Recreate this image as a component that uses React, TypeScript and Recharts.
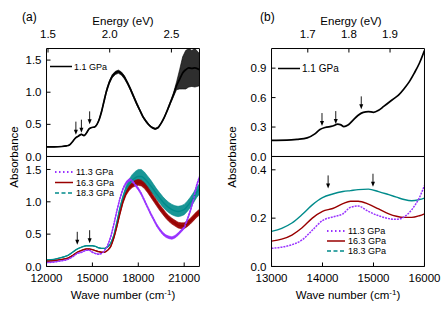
import React from "react";
import { ComposedChart, Line, Area, XAxis, YAxis, ReferenceDot } from "recharts";

const FONT = '"Liberation Sans", Arial, sans-serif';
const EV = 8065.54; // cm-1 per eV

// (a) upper panel, 1.1 GPa
const A_TOP_WN = [12000, 12500, 13000, 13300, 13500, 13700, 13900, 14100, 14280, 14450, 14600, 14780, 14950, 15150, 15300, 15450, 15600, 15750, 15900, 16100, 16300, 16500, 16700, 16900, 17100, 17300, 17500, 17700, 17900, 18100, 18300, 18500, 18700, 18900, 19100, 19300, 19500, 19700, 19900, 20100, 20300, 20500, 20700, 20900, 21100, 21300, 21500, 21700, 22000];
const A_TOP_ABS = [0.15, 0.15, 0.155, 0.165, 0.18, 0.23, 0.29, 0.32, 0.345, 0.325, 0.36, 0.43, 0.45, 0.46, 0.5, 0.58, 0.7, 0.85, 1.0, 1.15, 1.25, 1.3, 1.32, 1.29, 1.23, 1.14, 1.04, 0.93, 0.82, 0.72, 0.62, 0.55, 0.49, 0.45, 0.43, 0.45, 0.52, 0.61, 0.72, 0.84, 0.96, 1.1, 1.2, 1.3, 1.35, 1.38, 1.37, 1.38, 1.35];
const A_TOP_NOISE = [0, 0, 0, 0, 0, 0, 0, 0, 0, 0, 0, 0, 0, 0, 0, 0.01, 0.015, 0.02, 0.02, 0.02, 0.025, 0.025, 0.025, 0.025, 0.025, 0.02, 0.02, 0.02, 0.02, 0.015, 0.015, 0.015, 0.01, 0.01, 0.01, 0.01, 0.01, 0.01, 0.015, 0.02, 0.03, 0.06, 0.15, 0.25, 0.3, 0.3, 0.28, 0.3, 0.25];

// (a) lower panel
const A_WN = [12000, 12500, 13000, 13400, 13700, 14000, 14300, 14600, 14800, 15000, 15200, 15400, 15600, 15800, 16000, 16200, 16400, 16600, 16800, 17000, 17200, 17400, 17600, 17800, 18000, 18200, 18400, 18600, 18800, 19000, 19200, 19400, 19600, 19800, 20000, 20200, 20400, 20600, 20800, 21000, 21200, 21400, 21600, 21800, 22000];
const A_113 = [0.06, 0.07, 0.09, 0.11, 0.15, 0.2, 0.22, 0.25, 0.25, 0.22, 0.2, 0.19, 0.2, 0.25, 0.33, 0.46, 0.65, 0.86, 1.05, 1.2, 1.29, 1.34, 1.32, 1.26, 1.2, 1.12, 1.02, 0.92, 0.82, 0.73, 0.64, 0.57, 0.51, 0.47, 0.45, 0.44, 0.46, 0.5, 0.55, 0.6, 0.72, 0.86, 1.03, 1.24, 1.38];
const A_163 = [0.08, 0.09, 0.11, 0.13, 0.17, 0.22, 0.25, 0.27, 0.27, 0.26, 0.245, 0.23, 0.22, 0.22, 0.25, 0.31, 0.44, 0.62, 0.82, 1.0, 1.13, 1.21, 1.26, 1.29, 1.3, 1.29, 1.25, 1.19, 1.12, 1.05, 0.98, 0.91, 0.85, 0.79, 0.74, 0.7, 0.67, 0.64, 0.63, 0.63, 0.66, 0.7, 0.75, 0.8, 0.84];
const A_183 = [0.1, 0.11, 0.14, 0.17, 0.22, 0.27, 0.3, 0.32, 0.32, 0.32, 0.31, 0.29, 0.28, 0.28, 0.3, 0.36, 0.48, 0.68, 0.9, 1.07, 1.2, 1.28, 1.33, 1.37, 1.39, 1.39, 1.36, 1.31, 1.25, 1.19, 1.12, 1.06, 1.0, 0.95, 0.91, 0.88, 0.86, 0.85, 0.86, 0.88, 0.93, 0.99, 1.06, 1.14, 1.2];
const A_113_NOISE = [0, 0, 0, 0, 0, 0, 0, 0, 0, 0, 0, 0, 0, 0, 0, 0.01, 0.01, 0.01, 0.01, 0.015, 0.02, 0.02, 0.02, 0.02, 0.02, 0.02, 0.02, 0.02, 0.02, 0.02, 0.02, 0.02, 0.02, 0.02, 0.02, 0.02, 0.02, 0.02, 0.02, 0.02, 0.02, 0.02, 0.02, 0.02, 0.02];
const A_163_NOISE = [0, 0, 0, 0, 0, 0, 0, 0, 0, 0, 0, 0, 0, 0, 0, 0, 0, 0.01, 0.015, 0.02, 0.03, 0.035, 0.04, 0.045, 0.045, 0.045, 0.045, 0.045, 0.045, 0.045, 0.045, 0.045, 0.045, 0.045, 0.045, 0.045, 0.045, 0.045, 0.045, 0.045, 0.045, 0.045, 0.045, 0.045, 0.045];
const A_183_NOISE = [0, 0, 0, 0, 0, 0, 0, 0, 0, 0, 0, 0, 0, 0, 0, 0, 0.01, 0.015, 0.02, 0.03, 0.05, 0.07, 0.09, 0.1, 0.11, 0.11, 0.1, 0.09, 0.09, 0.08, 0.08, 0.08, 0.08, 0.08, 0.08, 0.08, 0.08, 0.08, 0.08, 0.08, 0.08, 0.08, 0.08, 0.08, 0.08];

// (b) upper panel, 1.1 GPa
const B_TOP_WN = [13000, 13300, 13500, 13700, 13850, 13950, 14050, 14200, 14300, 14350, 14420, 14500, 14600, 14700, 14800, 14900, 15000, 15100, 15200, 15300, 15400, 15500, 15600, 15700, 15800, 15900, 16000];
const B_TOP_ABS = [0.165, 0.167, 0.175, 0.19, 0.23, 0.275, 0.295, 0.31, 0.33, 0.325, 0.305, 0.32, 0.37, 0.42, 0.45, 0.458, 0.45, 0.47, 0.51, 0.55, 0.59, 0.63, 0.69, 0.76, 0.85, 0.95, 1.08];

// (b) lower panel
const B_WN = [13000, 13200, 13400, 13600, 13800, 14000, 14200, 14400, 14550, 14700, 14900, 15100, 15300, 15450, 15600, 15750, 15900, 16000];
const B_113 = [0.075, 0.08, 0.09, 0.11, 0.15, 0.19, 0.205, 0.218, 0.245, 0.25, 0.228, 0.21, 0.198, 0.195, 0.205, 0.235, 0.285, 0.335];
const B_163 = [0.105, 0.113, 0.13, 0.16, 0.2, 0.228, 0.24, 0.26, 0.27, 0.27, 0.258, 0.238, 0.218, 0.208, 0.203, 0.203, 0.21, 0.218];
const B_183 = [0.145, 0.158, 0.18, 0.215, 0.255, 0.285, 0.3, 0.31, 0.314, 0.318, 0.32, 0.31, 0.297, 0.287, 0.277, 0.272, 0.277, 0.283];

// arrow tips
const ARROWS_A_TOP = [{ x: 13920, y: 0.34 }, { x: 14280, y: 0.37 }, { x: 14820, y: 0.5 }];
const ARROWS_A_BOT = [{ x: 14010, y: 0.335 }, { x: 14820, y: 0.36 }];
const ARROWS_B_TOP = [{ x: 13990, y: 0.31 }, { x: 14260, y: 0.33 }, { x: 14760, y: 0.48 }];
const ARROWS_B_BOT = [{ x: 14110, y: 0.323 }, { x: 14990, y: 0.33 }];

const PURPLE = "#9933ff";
const RED = "#990000";
const TEAL = "#008b8b";

const band = (v: number, n: number) => [v - n, v + n];

const aTop = A_TOP_WN.map((x, i) => ({ x, v: A_TOP_ABS[i], nb: band(A_TOP_ABS[i], A_TOP_NOISE[i]) }));
const aBot = A_WN.map((x, i) => ({
  x,
  p: A_113[i], r: A_163[i], t: A_183[i],
  pb: band(A_113[i], A_113_NOISE[i]),
  rb: band(A_163[i], A_163_NOISE[i]),
  tb: band(A_183[i], A_183_NOISE[i]),
}));
const bTop = B_TOP_WN.map((x, i) => ({ x, v: B_TOP_ABS[i] }));
const bBot = B_WN.map((x, i) => ({ x, p: B_113[i], r: B_163[i], t: B_183[i] }));

const tickStyle = { fontSize: 11.5, fill: "#000", fontFamily: FONT };

const Arrow = (props: any) => {
  const { cx, cy } = props;
  return (
    <g>
      <line x1={cx} y1={cy - 13} x2={cx} y2={cy - 4} stroke="#000" strokeWidth={0.9} />
      <path d={`M${cx - 2},${cy - 5} L${cx + 2},${cy - 5} L${cx},${cy} Z`} fill="#000" />
    </g>
  );
};

// axes take (almost) no room, so the plot box is set by the chart margins
const THIN = 0.01;

function frame(o: {
  xDomain: [number, number];
  xMajor: number[];
  xMinor: number[];
  bottomLabels: boolean;
  topMajor: number[];
  topMinor: number[];
  topLabels: boolean;
  yDomain: [number, number];
  yMajor: number[];
  yMinor: number[];
}) {
  const common = { stroke: "#000", tickLine: { stroke: "#000" }, allowDataOverflow: true, interval: 0 as const };
  const fmtE = (v: number) => (v / EV).toFixed(1);
  const fmtY = (v: number) => v.toFixed(1);
  return [
    <XAxis key="x" xAxisId="x" dataKey="x" type="number" domain={o.xDomain} ticks={o.xMajor} tickSize={-4} tickMargin={11}
      height={THIN} {...common} tick={o.bottomLabels ? tickStyle : false} />,
    <XAxis key="xm" xAxisId="xm" dataKey="x" type="number" domain={o.xDomain} ticks={o.xMinor} tickSize={-2.5}
      height={THIN} {...common} axisLine={false} tick={false} />,
    <XAxis key="t" xAxisId="t" orientation="top" dataKey="x" type="number" domain={o.xDomain} ticks={o.topMajor} tickSize={-4}
      tickMargin={15} height={THIN} {...common} tick={o.topLabels ? tickStyle : false} tickFormatter={fmtE} />,
    <XAxis key="tm" xAxisId="tm" orientation="top" dataKey="x" type="number" domain={o.xDomain} ticks={o.topMinor} tickSize={-2.5}
      height={THIN} {...common} axisLine={false} tick={false} />,
    <YAxis key="y" yAxisId="y" type="number" domain={o.yDomain} ticks={o.yMajor} tickSize={-4} tickMargin={9} width={THIN}
      {...common} tick={tickStyle} tickFormatter={fmtY} />,
    <YAxis key="ym" yAxisId="ym" type="number" domain={o.yDomain} ticks={o.yMinor} tickSize={-2.5} width={THIN}
      {...common} axisLine={false} tick={false} />,
    <YAxis key="r" yAxisId="r" orientation="right" type="number" domain={o.yDomain} ticks={o.yMajor} tickSize={-4} width={THIN}
      {...common} tick={false} />,
    <YAxis key="rm" yAxisId="rm" orientation="right" type="number" domain={o.yDomain} ticks={o.yMinor} tickSize={-2.5} width={THIN}
      {...common} axisLine={false} tick={false} />,
  ];
}

const W = 447;
const H = 311;
type Box = { l: number; r: number; t: number; b: number };
const margin = (b: Box) => ({ left: b.l, right: W - b.r, top: b.t, bottom: H - b.b });

const A_X = { l: 46.5, r: 199.5 };
const B_X = { l: 271.5, r: 424.5 };
const TOP_Y = { t: 48.5, b: 156.5 };
const BOT_Y = { t: 156.5, b: 266.5 };

const A_XDOM: [number, number] = [12000, 22000];
const A_XMAJ = [12000, 15000, 18000, 21000];
const A_XMIN = [13500, 16500, 19500];
const A_EMAJ = [1.5, 2.0, 2.5].map((e) => e * EV);
const A_EMIN = [1.75, 2.25].map((e) => e * EV);

const B_XDOM: [number, number] = [13000, 16000];
const B_XMAJ = [13000, 14000, 15000, 16000];
const B_XMIN = [13500, 14500, 15500];
const B_EMAJ = [1.7, 1.8, 1.9].map((e) => e * EV);
const B_EMIN = [1.65, 1.75, 1.85, 1.95].map((e) => e * EV);

const layer: React.CSSProperties = { position: "absolute", left: 0, top: 0 };

function arrows(list: { x: number; y: number }[]) {
  return list.map((a, i) => (
    <ReferenceDot key={"ar" + i} xAxisId="x" yAxisId="y" x={a.x} y={a.y} ifOverflow="visible" shape={Arrow} />
  ));
}

const series = { xAxisId: "x", yAxisId: "y", dot: false, activeDot: false, isAnimationActive: false, legendType: "none" as const };

export default function App() {
  const aTopBox = { ...A_X, ...TOP_Y };
  const aBotBox = { ...A_X, ...BOT_Y };
  const bTopBox = { ...B_X, ...TOP_Y };
  const bBotBox = { ...B_X, ...BOT_Y };
  return (
    <div style={{ position: "absolute", left: 0, top: 0, width: W, height: H, background: "#fff", fontFamily: FONT }}>
      <div style={layer}>
        <ComposedChart width={W} height={H} data={aTop} margin={margin(aTopBox)}>
          {frame({ xDomain: A_XDOM, xMajor: A_XMAJ, xMinor: A_XMIN, bottomLabels: false, topMajor: A_EMAJ, topMinor: A_EMIN, topLabels: true, yDomain: [0, 1.68], yMajor: [0, 0.5, 1.0, 1.5], yMinor: [0.25, 0.75, 1.25] })}
          <Area {...series} type="linear" dataKey="nb" stroke="#000" strokeWidth={0.6} fill="#111" fillOpacity={0.88} />
          <Line {...series} type="monotone" dataKey="v" stroke="#000" strokeWidth={1.7} />
          {arrows(ARROWS_A_TOP)}
        </ComposedChart>
      </div>
      <div style={layer}>
        <ComposedChart width={W} height={H} data={aBot} margin={margin(aBotBox)}>
          {frame({ xDomain: A_XDOM, xMajor: A_XMAJ, xMinor: A_XMIN, bottomLabels: true, topMajor: A_XMAJ, topMinor: A_XMIN, topLabels: false, yDomain: [0, 1.7], yMajor: [0, 0.5, 1.0, 1.5], yMinor: [0.25, 0.75, 1.25] })}
          <Area {...series} type="linear" dataKey="tb" stroke={TEAL} strokeWidth={0.6} fill={TEAL} fillOpacity={0.9} />
          <Line {...series} type="monotone" dataKey="t" stroke={TEAL} strokeWidth={1.4} />
          <Area {...series} type="linear" dataKey="rb" stroke={RED} strokeWidth={0.6} fill={RED} fillOpacity={0.95} />
          <Line {...series} type="monotone" dataKey="r" stroke={RED} strokeWidth={1.4} />
          <Area {...series} type="linear" dataKey="pb" stroke={PURPLE} strokeWidth={0.6} fill={PURPLE} fillOpacity={1} />
          <Line {...series} type="monotone" dataKey="p" stroke={PURPLE} strokeWidth={1.5} strokeDasharray="2 1" />
          {arrows(ARROWS_A_BOT)}
        </ComposedChart>
      </div>
      <div style={layer}>
        <ComposedChart width={W} height={H} data={bTop} margin={margin(bTopBox)}>
          {frame({ xDomain: B_XDOM, xMajor: B_XMAJ, xMinor: B_XMIN, bottomLabels: false, topMajor: B_EMAJ, topMinor: B_EMIN, topLabels: true, yDomain: [0, 1.1], yMajor: [0, 0.3, 0.6, 0.9], yMinor: [0.15, 0.45, 0.75, 1.05] })}
          <Line {...series} type="monotone" dataKey="v" stroke="#000" strokeWidth={1.7} />
          {arrows(ARROWS_B_TOP)}
        </ComposedChart>
      </div>
      <div style={layer}>
        <ComposedChart width={W} height={H} data={bBot} margin={margin(bBotBox)}>
          {frame({ xDomain: B_XDOM, xMajor: B_XMAJ, xMinor: B_XMIN, bottomLabels: true, topMajor: B_XMAJ, topMinor: B_XMIN, topLabels: false, yDomain: [0, 0.455], yMajor: [0, 0.2, 0.4], yMinor: [0.1, 0.3] })}
          <Line {...series} type="monotone" dataKey="t" stroke={TEAL} strokeWidth={1.4} />
          <Line {...series} type="monotone" dataKey="r" stroke={RED} strokeWidth={1.4} />
          <Line {...series} type="monotone" dataKey="p" stroke={PURPLE} strokeWidth={1.5} strokeDasharray="2 1" />
          {arrows(ARROWS_B_BOT)}
        </ComposedChart>
      </div>
      <svg width={W} height={H} style={{ ...layer, pointerEvents: "none" }} fontFamily={FONT}>
        <text x={22} y={21} fontSize={12}>(a)</text>
        <text x={260} y={21} fontSize={12}>(b)</text>
        <text x={123} y={25} fontSize={11.5} textAnchor="middle">Energy (eV)</text>
        <text x={351} y={25} fontSize={11.5} textAnchor="middle">Energy (eV)</text>
        <text x={123} y={299} fontSize={11.5} textAnchor="middle">
          Wave number (cm<tspan dy={-4} fontSize={8}>-1</tspan><tspan dy={4}>)</tspan>
        </text>
        <text x={348} y={299} fontSize={11.5} textAnchor="middle">
          Wave number (cm<tspan dy={-4} fontSize={8}>-1</tspan><tspan dy={4}>)</tspan>
        </text>
        <text transform="translate(18,157) rotate(-90)" fontSize={11.5} textAnchor="middle">Absorbance</text>
        <text transform="translate(236,157) rotate(-90)" fontSize={11.5} textAnchor="middle">Absorbance</text>

        <line x1={50} x2={72} y1={66.5} y2={66.5} stroke="#000" strokeWidth={1.5} />
        <text x={74} y={69.5} fontSize={9}>1.1 GPa</text>
        <line x1={278} x2={300} y1={68.5} y2={68.5} stroke="#000" strokeWidth={1.5} />
        <text x={302} y={72} fontSize={10}>1.1 GPa</text>

        <line x1={55} x2={73} y1={172} y2={172} stroke={PURPLE} strokeWidth={2} strokeDasharray="1.5 2.5" />
        <text x={76} y={175} fontSize={9}>11.3 GPa</text>
        <line x1={55} x2={73} y1={182.5} y2={182.5} stroke={RED} strokeWidth={1.5} />
        <text x={76} y={185.5} fontSize={9}>16.3 GPa</text>
        <line x1={55} x2={73} y1={193} y2={193} stroke={TEAL} strokeWidth={1.5} strokeDasharray="4 2.5" />
        <text x={76} y={196} fontSize={9}>18.3 GPa</text>

        <line x1={327} x2={345} y1={231} y2={231} stroke={PURPLE} strokeWidth={2} strokeDasharray="1.5 2.5" />
        <text x={348} y={234} fontSize={9}>11.3 GPa</text>
        <line x1={327} x2={345} y1={241} y2={241} stroke={RED} strokeWidth={1.5} />
        <text x={348} y={244} fontSize={9}>16.3 GPa</text>
        <line x1={327} x2={345} y1={251} y2={251} stroke={TEAL} strokeWidth={1.5} strokeDasharray="4 2.5" />
        <text x={348} y={254} fontSize={9}>18.3 GPa</text>
      </svg>
    </div>
  );
}
